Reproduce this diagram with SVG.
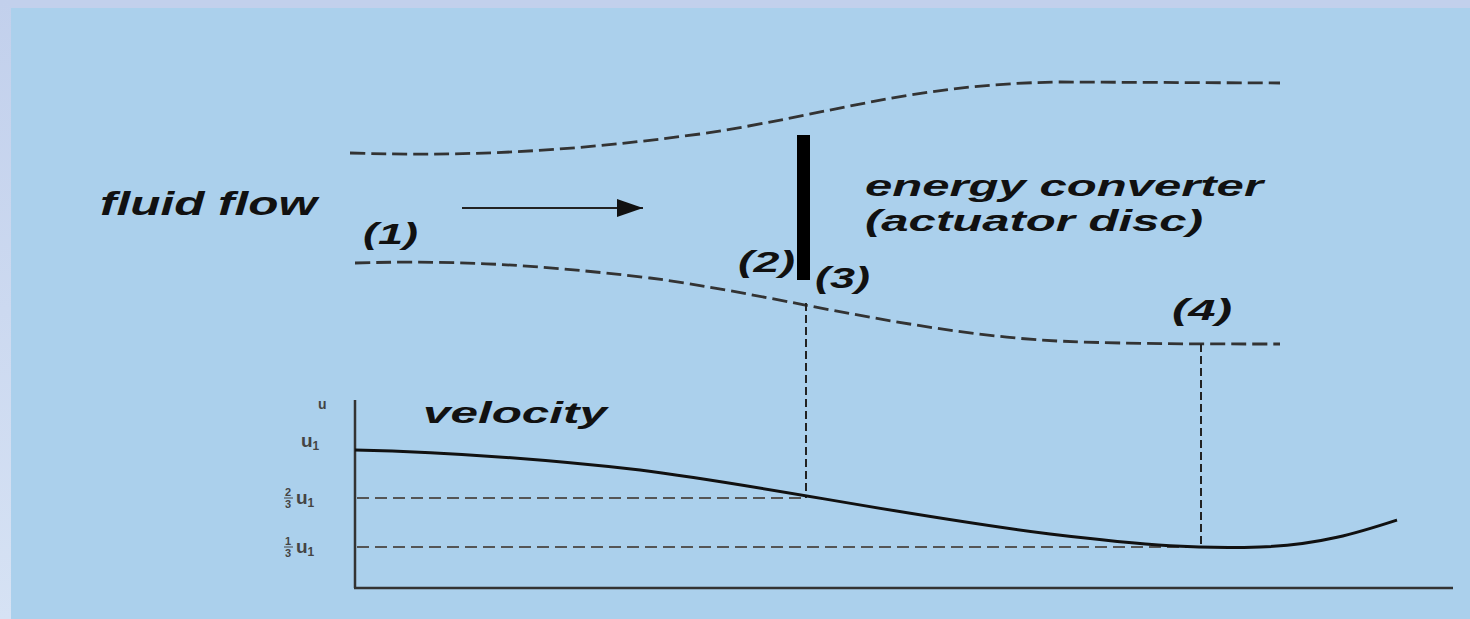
<svg xmlns="http://www.w3.org/2000/svg" width="1470" height="619" viewBox="0 0 1470 619">
<defs>
<linearGradient id="strip" x1="0" y1="0" x2="0" y2="1">
<stop offset="0" stop-color="#C2D0EC"/>
<stop offset="1" stop-color="#D6E2F4"/>
</linearGradient>
<marker id="arrow" viewBox="0 0 26 18" refX="26" refY="9" markerWidth="26" markerHeight="18" markerUnits="userSpaceOnUse" orient="auto">
<path d="M0,0 L26,9 L0,18 Z" fill="#111"/>
</marker>
<style>
.lbl{font-family:"Liberation Sans",Arial,sans-serif;font-weight:bold;font-style:italic;fill:#111}
.stream{fill:none;stroke:#333;stroke-width:2.8;stroke-dasharray:15 6}
.guide{fill:none;stroke:#222;stroke-width:2;stroke-dasharray:8 4}
.hguide{fill:none;stroke:#555;stroke-width:2;stroke-dasharray:12 6}
.axis{fill:none;stroke:#333;stroke-width:2.5}
.small{font-family:"Liberation Sans",Arial,sans-serif;font-weight:bold;fill:#444}
</style>
</defs>
<rect x="0" y="0" width="1470" height="619" fill="#ABD0EC"/>
<rect x="0" y="0" width="1470" height="8" fill="#C2D0EC"/>
<rect x="0" y="0" width="11" height="619" fill="url(#strip)"/>

<g id="streamlines">
<path id="upper-stream" class="stream" d="M350,153 C480,157 580,150 700,134 C830,115 910,84 1060,82 L1280,83"/>
<path id="lower-stream" class="stream" d="M355,263 C460,260 540,265 650,278 C760,292 900,330 1040,340 C1100,344 1200,344 1280,344"/>
</g>

<g id="disc">
<rect x="797" y="135" width="13" height="145" fill="#000"/>
</g>

<g id="connectors">
<line x1="462" y1="208" x2="643" y2="208" stroke="#222" stroke-width="2" marker-end="url(#arrow)"/>
<line class="guide" x1="806" y1="303" x2="806" y2="498"/>
<line class="guide" x1="1201" y1="344" x2="1201" y2="547"/>
<line class="hguide" x1="357" y1="498" x2="806" y2="498"/>
<line class="hguide" x1="357" y1="547" x2="1200" y2="547" stroke="#333"/>
</g>

<g id="axes">
<line class="axis" x1="355" y1="400" x2="355" y2="588"/>
<line class="axis" x1="354" y1="588" x2="1453" y2="588"/>
</g>

<g id="velocity-curve">
<path d="M355,450 C450,452 550,460 640,470 C760,485 900,515 1050,534 C1150,546 1200,549 1260,547 C1320,545 1360,532 1397,520" fill="none" stroke="#111" stroke-width="3"/>
</g>

<g id="labels">
<text class="lbl" x="100" y="215" font-size="33" textLength="217" lengthAdjust="spacingAndGlyphs">fluid flow</text>
<text class="lbl" x="865" y="196" font-size="30" textLength="398" lengthAdjust="spacingAndGlyphs">energy converter</text>
<text class="lbl" x="865" y="231" font-size="30" textLength="338" lengthAdjust="spacingAndGlyphs">(actuator disc)</text>
<text class="lbl" x="363" y="244" font-size="29" textLength="55" lengthAdjust="spacingAndGlyphs">(1)</text>
<text class="lbl" x="738" y="272" font-size="29" textLength="57" lengthAdjust="spacingAndGlyphs">(2)</text>
<text class="lbl" x="815" y="288" font-size="29" textLength="55" lengthAdjust="spacingAndGlyphs">(3)</text>
<text class="lbl" x="1172" y="320" font-size="29" textLength="60" lengthAdjust="spacingAndGlyphs">(4)</text>
<text class="lbl" x="423" y="423" font-size="29" textLength="184" lengthAdjust="spacingAndGlyphs">velocity</text>
</g>

<g id="axis-labels">
<text class="small" x="318" y="409" font-size="14">u</text>
<text class="small" x="301" y="447" font-size="19">u<tspan font-size="12" dy="3">1</tspan></text>
<text class="small" x="285" y="496" font-size="11">2</text>
<line x1="284" y1="498" x2="293" y2="498" stroke="#444" stroke-width="1"/>
<text class="small" x="285" y="508" font-size="11">3</text>
<text class="small" x="296" y="504" font-size="19">u<tspan font-size="12" dy="3">1</tspan></text>
<text class="small" x="285" y="545" font-size="11">1</text>
<line x1="284" y1="547" x2="293" y2="547" stroke="#444" stroke-width="1"/>
<text class="small" x="285" y="557" font-size="11">3</text>
<text class="small" x="296" y="553" font-size="19">u<tspan font-size="12" dy="3">1</tspan></text>
</g>
</svg>
